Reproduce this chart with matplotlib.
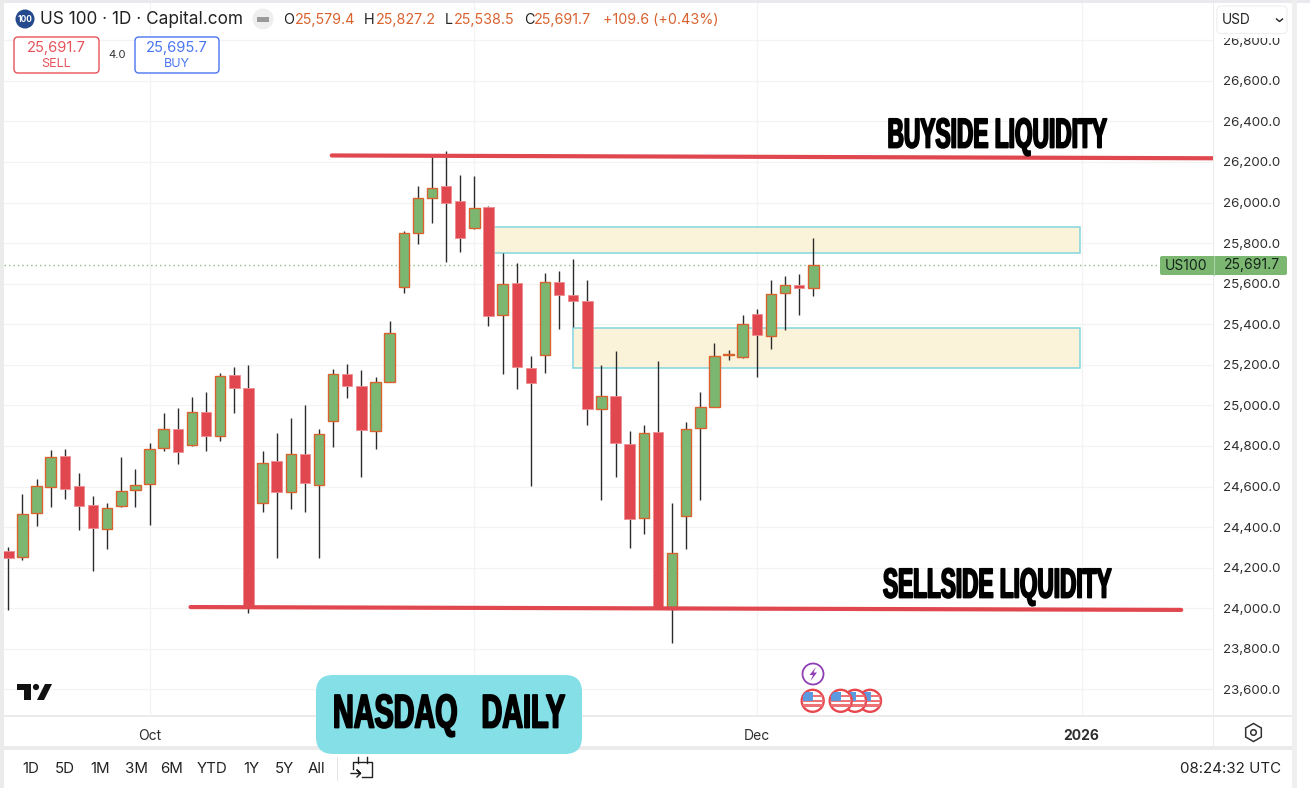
import matplotlib
matplotlib.use("Agg")
import matplotlib.pyplot as plt
from matplotlib.patches import Rectangle, FancyBboxPatch, Circle, Polygon
from matplotlib.patheffects import AbstractPathEffect
from matplotlib.transforms import Affine2D

plt.rcParams['font.family'] = ['Inter', 'DejaVu Sans']

# ---- chart values ----
opens = [24281,24251,24470,24596,24749,24603,24508,24389,24506,24582,24614,24789,24885,24805,24968,24851,25148,25086,
         24519,24725,24573,24759,24609,24925,25155,25097,24875,25117,25582,25850,26024,26082,26006,25876,25979,25444,
         25602,25183,25250,25608,25546,25516,24982,25048,24811,24447,24868,23995,24453,24887,24994,25250,25240,25451,
         25344,25553,25595,25579.4]
highs = [24304,24563,24636,24780,24784,24668,24554,24518,24744,24688,24813,24964,24986,25043,25065,25158,25188,25199,
         24777,24863,24938,25001,24882,25180,25203,25175,25139,25415,25861,26083,26231,26256,26134,26131,25985,25750,
         25702,25244,25651,25664,25720,25618,25199,25270,24872,24902,25219,24518,24920,25068,25309,25273,25444,25474,
         25620,25639,25646,25827.2]
lows = [23992,24238,24407,24501,24537,24386,24185,24292,24498,24498,24411,24777,24710,24800,24777,24825,24964,23978,
        24476,24249,24489,24473,24246,24794,25038,24649,24784,25115,25553,25797,25901,25708,25755,25870,25391,25155,
        25082,24603,25161,25375,25388,24903,24534,24647,24296,24365,24001,23830,24291,24534,24990,25224,25236,25139,
        25277,25373,25444,25538.5]
closes = [24248,24465,24601,24746,24587,24504,24394,24494,24580,24608,24787,24885,24769,24966,24848,25144,25087,24006,
          24718,24573,24762,24616,24859,25155,25096,24880,25115,25355,25850,26024,26073,25999,25824,25975,25442,25597,
          25189,25112,25610,25546,25516,24982,25048,24813,24442,24863,24008,24271,24884,24991,25244,25253,25400,25347,
          25551,25594,25579,25691.7]

month_ticks = [10, 33, 53, 76]
month_labels = ["Oct", "", "Dec", "2026"]
price_ticks = list(range(23600, 26801, 200))

buyside_x, buyside_y = [22.9, 86], [26232, 26218]
sellside_x, sellside_y = [12.9, 83.05], [24006, 23992]
zone_a = (34, 75.9, 25750, 25878)
zone_b = (40, 75.9, 25185, 25383)
last_close = 25691.7

header_ohlc = [("O", "25,579.4"), ("H", "25,827.2"), ("L", "25,538.5"), ("C", "25,691.7")]
ranges = ["1D", "5D", "1M", "3M", "6M", "YTD", "1Y", "5Y", "All"]

# ---- colours ----
RED, GREEN, ORANGE = "#e0474f", "#7cb772", "#d9622f"
WICK, GRID, BAND = "#2b2b2b", "#f3f3f3", "#ebebeb"
TEXT, ZONE, ZONE_EDGE = "#2e2e2e", "#fbf3d9", "#84d6df"

W, H = 1310, 788
fig = plt.figure(figsize=(W/100, H/100), dpi=100, facecolor="white")
ax = fig.add_axes([4/W, (H-716)/H, (1213-4)/W, (716-3)/H])
ax.set_xlim(-0.305, 85.3)
ax.set_ylim(23469, 26983.5)
ax.set_axisbelow(True)
ax.grid(True, color=GRID, lw=0.9)
for s in ax.spines.values():
    s.set_visible(False)
ax.yaxis.tick_right()
ax.set_yticks(price_ticks)
ax.set_yticklabels([f"{p:,.1f}" for p in price_ticks])
ax.set_xticks(month_ticks)
ax.set_xticklabels(month_labels)
ax.tick_params(axis="y", length=0, pad=7, labelsize=9.6, labelcolor=TEXT)
ax.tick_params(axis="x", length=0, pad=9, labelsize=10, labelcolor=TEXT)
ax.get_xticklabels()[3].set_fontweight("bold")

for (x0, x1, y0, y1) in (zone_a, zone_b):
    ax.add_patch(Rectangle((x0, y0), x1-x0, y1-y0, fc=ZONE, ec=ZONE_EDGE, lw=1.1, zorder=1.5))

ax.axhline(last_close, color="#8cbf84", lw=1, ls=(0, (1, 2.2)), zorder=1.6)

xs = list(range(len(opens)))
ax.vlines(xs, lows, highs, color=WICK, lw=1.0, zorder=2)
for x, o, c in zip(xs, opens, closes):
    up = c >= o
    ax.bar(x, abs(c-o), bottom=min(o, c), width=0.74,
           color=GREEN if up else RED,
           edgecolor=ORANGE if up else "#ee8d90",
           linewidth=1.0 if up else 0.6, zorder=3)
ax.plot(buyside_x, buyside_y, color=RED, lw=3.0, solid_capstyle="round", zorder=4)
ax.plot(sellside_x, sellside_y, color=RED, lw=3.0, solid_capstyle="round", zorder=4)

# ---- overlay in pixel coordinates for the surrounding widgets ----
ov = fig.add_axes([0, 0, 1, 1], zorder=5)
ov.set_xlim(0, W)
ov.set_ylim(H, 0)
ov.axis("off")


class Squeeze(AbstractPathEffect):
    """Narrow a text horizontally about its centre and thicken it slightly."""
    def __init__(self, cx, sx, stroke):
        super().__init__()
        self.cx, self.sx, self.stroke = cx, sx, stroke

    def draw_path(self, renderer, gc, tpath, affine, rgbFace=None):
        a = affine + Affine2D().translate(-self.cx, 0).scale(self.sx, 1).translate(self.cx, 0)
        g = renderer.new_gc()
        g.copy_properties(gc)
        g.set_linewidth(self.stroke)
        g.set_foreground("black")
        renderer.draw_path(g, tpath, a, rgbFace)
        g.restore()


def heavy(x, y, s, width_px, size):
    t = ov.text(x, y, s, ha="center", va="center", color="black", fontsize=size,
                fontweight="bold", family="Liberation Sans", zorder=30)
    r = fig.canvas.get_renderer()
    w = t.get_window_extent(r).width
    t.set_path_effects([Squeeze(x, width_px/w, 1.3)])
    return t


def rect(x0, y0, x1, y1, c, z=1, **kw):
    ov.add_patch(Rectangle((x0, y0), x1-x0, y1-y0, fc=c, ec="none", zorder=z, **kw))


def rbox(x0, y0, x1, y1, r, fc, ec, lw=1.0, z=10):
    ov.add_patch(FancyBboxPatch((x0+r, y0+r), x1-x0-2*r, y1-y0-2*r,
                                boxstyle=f"round,pad={r},rounding_size={r}",
                                fc=fc, ec=ec, lw=lw, zorder=z))


# frame bands and separators
rect(0, 0, W, 3, "#e9eaee")
rect(0, 0, 4, 788, BAND)
rect(1292, 0, 1297, 788, "#efefef")
rect(4, 715.3, 1292, 717.3, BAND)
rect(4, 746, 1292, 749.5, BAND)
rect(1213, 3, 1214, 746, BAND)
rect(1214.5, 33, 1292, 37.5, "white", z=9)

# header
ov.add_patch(Circle((25, 19), 9.5, fc="#24498c", ec="none", zorder=10))
ov.text(25, 19, "100", color="white", fontsize=6, fontweight="bold", ha="center", va="center", zorder=11)
ov.text(40, 19.5, "US 100 · 1D · Capital.com", color="#222222", fontsize=12.4, va="center", zorder=10)
ov.add_patch(Circle((263, 19), 10.5, fc="#eeeeee", ec="none", zorder=10))
rect(257, 17, 269, 21.5, "#9a9a9a", z=11)
label_x = [283, 364, 445, 524]
value_x = [295, 376, 454, 534]
for (lab, val), lx, vx in zip(header_ohlc, label_x, value_x):
    ov.text(lx, 19.5, lab, color="#222222", fontsize=10.3, va="center", zorder=10)
    ov.text(vx, 19.5, val, color=ORANGE, fontsize=10.3, va="center", zorder=10)
ov.text(603, 19.5, "+109.6 (+0.43%)", color=ORANGE, fontsize=10.3, va="center", zorder=10)

# sell and buy boxes
rbox(14, 37, 99, 73, 4, "white", "#e7525a", lw=1.0)
rbox(135, 37, 219, 73, 4, "white", "#4a76f0", lw=1.0)
ov.text(56.5, 47.5, "25,691.7", color="#e7525a", fontsize=10.6, ha="center", va="center", zorder=11)
ov.text(56.5, 63.5, "SELL", color="#e7525a", fontsize=9, ha="center", va="center", zorder=11)
ov.text(177, 47.5, "25,695.7", color="#4a76f0", fontsize=10.6, ha="center", va="center", zorder=11)
ov.text(177, 63.5, "BUY", color="#4a76f0", fontsize=9, ha="center", va="center", zorder=11)
ov.text(117, 55, "4.0", color="#333333", fontsize=8.2, ha="center", va="center", zorder=11)

# currency selector
rbox(1217, 6, 1287, 33.5, 4, "white", "#eeeeee", lw=0.8)
ov.text(1222, 20, "USD", color="#222222", fontsize=9.8, va="center", zorder=11)
ov.plot([1276.5, 1279.5, 1282.5], [19, 21.5, 19], color="#222222", lw=1.0, zorder=11)

# last-price tag
rbox(1160, 256, 1287, 275, 2, GREEN, "none")
ov.text(1186.5, 265.5, "US100", color="#14241a", fontsize=10, ha="center", va="center", zorder=11)
ov.text(1251.5, 265.5, "25,691.7", color="#14241a", fontsize=10, ha="center", va="center", zorder=11)
ov.plot([1213.5, 1213.5], [256, 275], color="#a8d0a2", lw=0.8, zorder=11)

# annotations
heavy(997, 136.5, "BUYSIDE LIQUIDITY", 219, 30)
heavy(997, 586.5, "SELLSIDE LIQUIDITY", 228, 30)
rbox(316, 675, 582, 754, 17, "#84dfe6", "none", z=20)
heavy(449, 715.5, "NASDAQ   DAILY", 232, 34)

# TradingView mark
ov.add_patch(Polygon([(17, 684), (31, 684), (31, 700), (24, 700), (24, 690), (17, 690)], fc="#111111", ec="none", zorder=10))
ov.add_patch(Circle((36, 687), 3.1, fc="#111111", ec="none", zorder=10))
ov.add_patch(Polygon([(45, 684), (52, 684), (44, 700), (37, 700)], fc="#111111", ec="none", zorder=10))

# event icons
ov.add_patch(Circle((813, 674), 10.5, fc="white", ec="#8e3fb5", lw=1.3, zorder=10))
ov.add_patch(Polygon([(816, 667), (809.5, 675), (813, 675), (810.5, 681), (817, 672.5), (813.5, 672.5)],
                     fc="#8e3fb5", ec="none", zorder=11))
for i, fx in enumerate([870, 855, 840.7, 812.7]):
    z = 10 + i*3
    fy = 700.8
    disc = Circle((fx, fy), 11, fc="white", ec="#e8474e", lw=1.7, zorder=z)
    ov.add_patch(disc)
    for dy in (-6, -1.2, 3.6):
        st = Rectangle((fx-11, fy+dy), 22, 2.6, fc="#ee7377", ec="none", zorder=z+0.1)
        ov.add_patch(st)
        st.set_clip_path(disc)
    can = Rectangle((fx-10, fy-9), 10.5, 9.2, fc="#5c9ae0", ec="none", zorder=z+0.2)
    ov.add_patch(can)
    can.set_clip_path(disc)

# settings icon
ov.plot([1253], [732], marker="h", ms=13, mfc="white", mec="#333333", mew=1.1, zorder=10)
ov.plot([1253], [732], marker="o", ms=4, mfc="white", mec="#333333", mew=1.1, zorder=11)

# bottom toolbar
range_x = [31, 65, 100, 136, 172, 212, 251, 284, 316]
for lab, rx in zip(ranges, range_x):
    ov.text(rx, 769, lab, color="#222222", fontsize=10.8, ha="center", va="center", zorder=10)
rect(337, 757, 338, 781, "#e4e4e4", z=10)
ov.plot([353, 353, 372.3, 372.3, 362], [769, 762, 762, 777.3, 777.3], color="#222222", lw=1.0, zorder=10)
ov.plot([358, 358], [757, 763], color="#222222", lw=1.0, zorder=10)
ov.plot([366.7, 366.7], [757, 763], color="#222222", lw=1.0, zorder=10)
ov.plot([351, 360.5, 357, 360.5, 357], [773.5, 773.5, 770, 773.5, 777], color="#222222", lw=1.0, zorder=10)
ov.text(1281, 769, "08:24:32 UTC", color="#222222", fontsize=10.85, ha="right", va="center", zorder=10)

fig.savefig("out.png", dpi=100, facecolor="white")
